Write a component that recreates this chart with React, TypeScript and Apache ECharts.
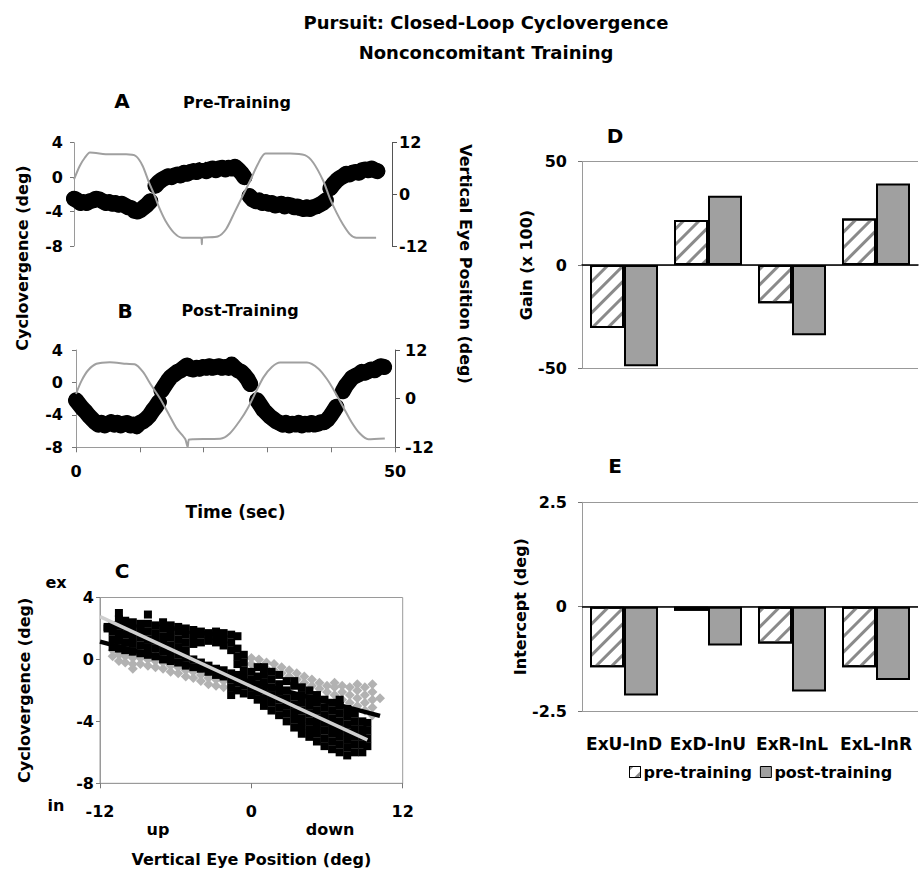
import { useEffect, useRef } from 'react';
import * as echarts from 'echarts';

const FONT = '"DejaVu Sans", "Liberation Sans", sans-serif';

// ---------- Panels A / B : time traces ----------
const timeTickLabels = [0, 50];

// vertical eye position (right axis, deg) – pre-training
const aEyePosition: [number, number][] = [
  [0, 3.5], [0.9, 6.6], [1.7, 8.5], [2.5, 9.7], [5.6, 9.3], [8.2, 9.3], [9.7, 8.9], [10.8, 6.6],
  [11.8, 2.7], [12.6, 0], [13.4, -3.1], [14.4, -6.2], [15.7, -8.9], [17, -10.1], [20, -10.1],
  [20.1, -11.6], [20.2, -10.1], [22.6, -9.8], [23.9, -8.1], [25.2, -4.3], [26.5, -0.4], [27.8, 3.5],
  [28.9, 7.0], [30.1, 9.5], [34, 9.5], [36.3, 9.1], [37.6, 7.4], [39.2, 3.1], [40.2, -0.8],
  [41.3, -4.3], [42.3, -7.0], [43.4, -9.3], [44.4, -10.1], [47.5, -10.1],
];

// cyclovergence (left axis, deg) – pre-training, four segments
const aCyclo1: [number, number][] = [
  [0, -2.5], [0.5, -2.7], [1, -3.0], [1.5, -2.9], [2, -3.0], [2.5, -2.8], [3, -2.7], [3.5, -2.5],
  [4, -2.6], [4.5, -2.8], [5, -3.0], [5.5, -2.9], [6, -3.1], [6.5, -3.0], [7, -3.2], [7.5, -3.1],
  [8, -3.3], [8.5, -3.5], [9, -3.6], [9.5, -3.9], [10, -4.0], [10.5, -3.8], [11, -3.5], [11.5, -3.2],
  [12, -2.8],
];
const aCyclo2: [number, number][] = [
  [12.8, -1.0], [13.3, -0.6], [13.8, -0.3], [14.3, -0.1], [14.8, 0.1], [15.3, 0.0], [15.8, 0.2],
  [16.3, 0.3], [16.8, 0.2], [17.3, 0.5], [17.8, 0.4], [18.3, 0.6], [18.8, 0.7], [19.3, 0.6],
  [19.8, 0.8], [20.3, 0.9], [20.8, 0.7], [21.3, 0.9], [21.8, 1.0], [22.3, 0.8], [22.8, 1.0],
  [23.3, 1.1], [23.8, 0.9], [24.3, 1.1], [24.8, 1.0], [25.3, 1.2], [25.8, 0.9], [26.3, 0.5], [26.8, 0.0],
];
const aCyclo3: [number, number][] = [
  [27.6, -2.2], [28.1, -2.6], [28.6, -2.8], [29.1, -2.7], [29.6, -3.0], [30.1, -2.9], [30.6, -3.1],
  [31.1, -3.0], [31.6, -3.3], [32.1, -3.2], [32.6, -3.1], [33.1, -3.4], [33.6, -3.2], [34.1, -3.3],
  [34.6, -3.5], [35.1, -3.4], [35.6, -3.6], [36.1, -3.7], [36.6, -3.5], [37.1, -3.7], [37.6, -3.5],
  [38.1, -3.4], [38.6, -3.2], [39.1, -3.0], [39.6, -2.7],
];
const aCyclo4: [number, number][] = [
  [40.3, -1.3], [40.8, -0.8], [41.3, -0.4], [41.8, -0.1], [42.3, 0.1], [42.8, 0.4], [43.3, 0.3],
  [43.8, 0.5], [44.3, 0.6], [44.8, 0.5], [45.3, 0.8], [45.8, 0.9], [46.3, 0.8], [46.8, 1.0],
  [47.3, 0.8], [47.7, 0.7],
];
const aOutlier: [number, number][] = [[20.2, 2.1]];

// post-training
const bEyePosition: [number, number][] = [
  [0, 1.2], [0.9, 4.5], [1.9, 7.0], [3.2, 8.6], [5.3, 9.0], [7.9, 8.6], [9.2, 8.5], [10.5, 6.6],
  [11.8, 3.3], [13.2, 0], [14.5, -3.7], [15.8, -7.4], [17.1, -9.9], [17.5, -11.9], [17.7, -10.1],
  [18.4, -10], [22.6, -9.9], [24.1, -8.6], [25.7, -5.4], [27, -2.1], [28.3, 2.0], [29.4, 5.3],
  [30.7, 7.8], [32, 8.9], [36.2, 8.9], [38, 7.4], [39.3, 4.9], [40.6, 1.6], [41.9, -2.1],
  [43.2, -5.8], [44.5, -8.6], [45.8, -10], [48.4, -9.8],
];
const bCyclo1: [number, number][] = [
  [0, -2.2], [0.5, -2.7], [1, -3.2], [1.5, -3.6], [2, -4.1], [2.5, -4.5], [3, -4.9], [3.5, -5.2],
  [4, -5.0], [4.5, -5.3], [5, -5.1], [5.5, -4.9], [6, -5.2], [6.5, -5.0], [7, -5.3], [7.5, -5.1],
  [8, -5.0], [8.5, -5.3], [9, -5.2], [9.5, -5.4], [10, -5.0], [10.5, -4.8], [11, -4.5], [11.5, -4.1],
  [12, -3.5], [12.5, -3.0], [13, -2.4],
];
const bCyclo2: [number, number][] = [
  [13.4, -1.0], [13.9, -0.4], [14.4, 0.2], [14.9, 0.7], [15.4, 1.0], [15.9, 1.3], [16.4, 1.5],
  [16.9, 1.8], [17.4, 2.1], [17.9, 1.7], [18.4, 1.6], [18.9, 1.8], [19.4, 1.7], [19.9, 1.9],
  [20.4, 1.8], [20.9, 2.0], [21.4, 1.8], [21.9, 1.9], [22.4, 2.0], [22.9, 1.8], [23.4, 1.9],
  [23.9, 1.8], [24.4, 2.2], [24.9, 1.8], [25.4, 1.5], [25.9, 1.3], [26.4, 0.9], [26.9, 0.4], [27.3, -0.2],
];
const bCyclo3: [number, number][] = [
  [28.4, -2.2], [28.9, -2.8], [29.4, -3.4], [29.9, -3.8], [30.4, -4.2], [30.9, -4.5], [31.4, -4.8],
  [31.9, -5.0], [32.4, -5.2], [32.9, -5.0], [33.4, -5.3], [33.9, -5.1], [34.4, -5.2], [34.9, -5.0],
  [35.4, -5.3], [35.9, -5.1], [36.4, -5.2], [36.9, -5.0], [37.4, -5.2], [37.9, -5.1], [38.4, -4.9],
  [38.9, -4.9], [39.4, -4.6], [39.9, -4.1], [40.4, -3.5], [40.8, -3.0],
];
const bCyclo4: [number, number][] = [
  [41.8, -1.1], [42.3, -0.4], [42.8, 0.1], [43.3, 0.6], [43.8, 0.8], [44.3, 1.0], [44.8, 1.3],
  [45.3, 1.2], [45.8, 1.4], [46.3, 1.6], [46.8, 1.5], [47.3, 1.8], [47.8, 2.0], [48.3, 1.9],
];

// ---------- Panel C : cyclovergence vs vertical eye position ----------
const postColumnsX = [
  -11.4, -11.0, -10.5, -10.0, -9.4, -8.8, -8.2, -7.6, -7.0, -6.4, -5.8, -5.2, -4.6, -4.0, -3.4,
  -2.8, -2.2, -1.6, -1.1, -0.6, 0.0, 0.5, 1.0, 1.6, 2.2, 2.8, 3.4, 4.0, 4.6, 5.2, 5.8, 6.4, 7.0,
  7.6, 8.2, 8.8, 9.2,
];
const postColumnsY: number[][] = [
  [2.0, 2.1],
  [0.8, 1.3, 1.8, 2.2],
  [0.7, 1.2, 1.7, 2.2, 2.6, 3.0],
  [0.6, 1.1, 1.6, 2.1, 2.5],
  [0.5, 1.0, 1.5, 2.0, 2.4],
  [0.4, 0.9, 1.4, 1.9, 2.3],
  [0.3, 0.8, 1.3, 1.8, 2.3, 2.9],
  [0.2, 0.7, 1.2, 1.7, 2.2],
  [0.0, 0.5, 1.0, 1.5, 2.0, 2.4],
  [-0.1, 0.4, 0.9, 1.4, 1.9, 2.2],
  [-0.2, 0.3, 0.8, 1.3, 1.8, 2.1],
  [-0.4, 0.1, 0.6, 1.1, 1.6, 2.0],
  [-0.5, 0.0, 1.0, 1.5, 1.9],
  [-0.6, -0.2, 1.1, 1.6, 1.8],
  [-0.8, -0.4, 1.2, 1.6, 1.7],
  [-1.0, -0.6, 1.1, 1.5, 1.8],
  [-1.1, -0.7, 0.9, 1.3, 1.7],
  [-2.3, -1.8, -1.3, -0.9, 0.6, 1.1, 1.6],
  [-2.0, -1.5, -1.0, -0.3, 0.2, 0.7, 1.5],
  [-2.2, -1.7, -1.2, -0.7, -0.2, 0.3],
  [-2.3, -1.8, -1.3, -0.8],
  [-2.6, -2.1, -1.6, -1.1, -0.5],
  [-3.0, -2.5, -2.0, -1.5, -1.0, -0.5],
  [-3.3, -2.8, -2.3, -1.8, -1.3, -0.8],
  [-3.6, -3.1, -2.6, -2.1, -1.6, -1.0],
  [-4.0, -3.5, -3.0, -2.5, -2.0, -1.4],
  [-4.4, -3.9, -3.4, -2.9, -2.4, -1.7, -1.4],
  [-4.8, -4.3, -3.8, -3.3, -2.8, -2.3, -1.8],
  [-5.0, -4.5, -4.0, -3.5, -3.0, -2.5, -2.0],
  [-5.3, -4.8, -4.3, -3.8, -3.3, -2.8, -2.3],
  [-5.6, -5.1, -4.6, -4.1, -3.6, -3.1, -2.6],
  [-5.8, -5.3, -4.8, -4.3, -3.8, -3.3, -2.8],
  [-6.0, -5.5, -5.0, -4.5, -4.0, -3.5, -3.0, -2.6],
  [-6.2, -5.7, -5.2, -4.7, -4.2, -3.7, -3.2],
  [-6.0, -5.5, -5.0, -4.5, -4.0, -3.5],
  [-6.0, -5.5, -5.0, -4.5, -4.0],
  [-5.6, -5.1, -4.6, -4.1],
];
const preColumnsX = [
  -11.0, -10.5, -10.0, -9.4, -8.8, -8.2, -7.6, -7.0, -6.4, -5.8, -5.2, -4.6, -4.0, -3.4, -2.8,
  -2.2, 0.0, 0.6, 1.2, 1.8, 2.4, 3.0, 3.6, 4.2, 4.8, 5.4, 6.0, 6.6, 7.2, 7.8, 8.4, 9.0, 9.6, 10.2,
];
const preColumnsY: number[][] = [
  [0.2, 0.6],
  [-0.1, 0.3, 0.7],
  [-0.2, 0.2, 0.6],
  [-0.6, -0.3, 0.1, 0.5],
  [-0.3, 0.1, 0.4],
  [-0.4, 0.0, 0.3],
  [-0.5, -0.1, 0.2],
  [-0.6, -0.2, 0.1],
  [-0.8, -0.4],
  [-0.9, -0.5],
  [-1.1, -0.7],
  [-1.2, -0.8],
  [-1.4, -1.0],
  [-1.6, -1.2],
  [-1.7, -1.3],
  [-1.8, -1.4],
  [-0.3, 0.1],
  [-0.4, 0.0],
  [-0.6, -0.2],
  [-0.7, -0.3],
  [-0.9, -0.5],
  [-1.1, -0.7],
  [-1.3, -0.9],
  [-1.5, -1.1],
  [-1.7, -1.3],
  [-1.9, -1.5],
  [-2.1, -1.7],
  [-2.3, -1.8, -1.5],
  [-2.6, -2.1, -1.7],
  [-2.8, -2.3, -1.8],
  [-3.0, -2.5, -2.0, -1.6],
  [-3.3, -2.8, -2.3, -1.8],
  [-3.6, -3.1, -2.6, -2.1, -1.6],
  [-2.5],
];
const preFitEnds: [number, number][] = [[-12, 1.15], [10.2, -3.65]];
const postFitEnds: [number, number][] = [[-12, 2.76], [9.2, -5.2]];

// ---------- Panels D / E : bars ----------
const categories = ['ExU-InD', 'ExD-InU', 'ExR-InL', 'ExL-InR'];
const gainPre = [-30.5, 21.8, -18.5, 22.5];
const gainPost = [-49, 33.5, -34, 39.5];
const interceptPre = [-1.45, -0.1, -0.88, -1.45];
const interceptPost = [-2.13, -0.93, -2.03, -1.76];

const flatten = (xs: number[], ys: number[][]) => {
  const out: [number, number][] = [];
  xs.forEach((x, i) => ys[i].forEach((y) => out.push([x, y])));
  return out;
};

const txt = (size: number) => ({
  fontFamily: FONT,
  fontWeight: 'bold' as const,
  fontSize: size,
  color: '#000',
});

const blackTrace = (data: [number, number][], xi: number, yi: number) => ({
  type: 'line',
  xAxisIndex: xi,
  yAxisIndex: yi,
  data,
  symbol: 'circle',
  symbolSize: 15,
  itemStyle: { color: '#000' },
  lineStyle: { color: '#000', width: 16, cap: 'round', join: 'round' },
  silent: true,
  z: 3,
});

const eyeTrace = (data: [number, number][], xi: number, yi: number) => ({
  type: 'line',
  xAxisIndex: xi,
  yAxisIndex: yi,
  data,
  smooth: 0.25,
  symbol: 'none',
  lineStyle: { color: '#a0a0a0', width: 2 },
  silent: true,
  z: 4,
});

const hatch = {
  symbol: 'rect',
  symbolSize: 1,
  dashArrayX: [1, 0],
  dashArrayY: [3, 8],
  rotation: -Math.PI / 4,
  color: '#8a8a8a',
};

const preItem = { color: '#fff', borderColor: '#000', borderWidth: 2, decal: hatch };
const postItem = { color: '#a0a0a0', borderColor: '#000', borderWidth: 2 };

function txtG(size: number) {
  return {
    font: `bold ${size}px ${FONT}`,
    fill: '#000',
    align: 'center',
    verticalAlign: 'middle',
  };
}

export default function App() {
  const ref = useRef<HTMLDivElement>(null);
  useEffect(() => {
    if (!ref.current) return;
    const chart = echarts.init(ref.current, null, { renderer: 'svg' });

    const leftValueAxis = (grid: number, min: number, max: number, interval: number, margin: number) => ({
      type: 'value',
      gridIndex: grid,
      min,
      max,
      interval,
      axisLine: { show: true, onZero: false, lineStyle: { color: '#9a9a9a', width: 1 } },
      axisTick: { show: true, length: 4, lineStyle: { color: '#777' } },
      axisLabel: { ...txt(16), margin },
      splitLine: { show: false },
    });

    chart.setOption({
      animation: false,
      backgroundColor: '#fff',
      title: {
        text: 'Pursuit: Closed-Loop Cyclovergence\nNonconcomitant Training',
        left: 486,
        top: 7,
        padding: 0,
        textAlign: 'center',
        textStyle: { ...txt(18), lineHeight: 30 },
      },
      legend: {
        data: ['pre-training', 'post-training'],
        left: 629,
        top: 764,
        icon: 'rect',
        itemWidth: 11,
        itemHeight: 11,
        itemGap: 8,
        padding: 0,
        itemStyle: { borderWidth: 1, borderColor: '#000' },
        textStyle: { ...txt(16), padding: [0, 0, 0, -2] },
      },
      grid: [
        { left: 74, top: 142.7, width: 318, height: 103.3 },
        { left: 76, top: 350, width: 319, height: 97.3 },
        { left: 100, top: 597.5, width: 302.7, height: 185.8, show: true, borderColor: '#9a9a9a', borderWidth: 1 },
        { left: 582, top: 161.7, width: 336, height: 206.6 },
        { left: 582, top: 502.3, width: 336, height: 208.7 },
      ],
      xAxis: [
        { type: 'value', gridIndex: 0, min: 0, max: 50, show: false },
        {
          type: 'value',
          gridIndex: 1,
          min: 0,
          max: 50,
          interval: 10,
          axisLine: { show: true, onZero: false, lineStyle: { color: '#9a9a9a' } },
          axisTick: { show: true, length: 5, lineStyle: { color: '#777' } },
          axisLabel: {
            ...txt(16),
            margin: 16,
            formatter: (v: number) => (timeTickLabels.includes(v) ? String(v) : ''),
          },
          splitLine: { show: false },
          name: 'Time (sec)',
          nameLocation: 'middle',
          nameGap: 56,
          nameTextStyle: txt(17),
        },
        {
          type: 'value',
          gridIndex: 2,
          min: -12,
          max: 12,
          interval: 12,
          axisLine: { show: true, onZero: false, lineStyle: { color: '#9a9a9a' } },
          axisTick: { show: true, length: 5, lineStyle: { color: '#777' } },
          axisLabel: { ...txt(16), margin: 20 },
          splitLine: { show: false },
          name: 'Vertical Eye Position (deg)',
          nameLocation: 'middle',
          nameGap: 68,
          nameTextStyle: txt(16),
        },
        {
          type: 'category',
          gridIndex: 3,
          data: categories,
          axisLine: { show: true, onZero: true, lineStyle: { color: '#000', width: 1.5 } },
          axisTick: { show: false },
          axisLabel: { show: false },
        },
        {
          type: 'category',
          gridIndex: 4,
          data: categories,
          axisLine: { show: false, onZero: false },
          axisTick: { show: false },
          axisLabel: { ...txt(17), margin: 24, interval: 0 },
        },
      ],
      yAxis: [
        leftValueAxis(0, -8, 4, 4, 11),
        {
          type: 'value',
          gridIndex: 0,
          position: 'right',
          min: -12,
          max: 12,
          interval: 12,
          axisLine: { show: true, onZero: false, lineStyle: { color: '#555' } },
          axisTick: { show: true, length: 5, lineStyle: { color: '#555' } },
          axisLabel: { ...txt(16), margin: 7 },
          splitLine: { show: false },
        },
        leftValueAxis(1, -8, 4, 4, 13),
        {
          type: 'value',
          gridIndex: 1,
          position: 'right',
          min: -12,
          max: 12,
          interval: 12,
          axisLine: { show: true, onZero: false, lineStyle: { color: '#555' } },
          axisTick: { show: true, length: 5, lineStyle: { color: '#555' } },
          axisLabel: { ...txt(16), margin: 10 },
          splitLine: { show: false },
        },
        {
          ...leftValueAxis(2, -8, 4, 4, 6),
          name: 'Cyclovergence (deg)',
          nameLocation: 'middle',
          nameRotate: 90,
          nameGap: 68,
          nameTextStyle: txt(16),
        },
        {
          ...leftValueAxis(3, -50, 50, 50, 15),
          splitLine: { show: true, lineStyle: { color: '#999', width: 1 } },
          name: 'Gain (x 100)',
          nameLocation: 'middle',
          nameRotate: 90,
          nameGap: 42,
          nameTextStyle: txt(16),
        },
        {
          ...leftValueAxis(4, -2.5, 2.5, 2.5, 15),
          splitLine: { show: true, lineStyle: { color: '#999', width: 1 } },
          name: 'Intercept (deg)',
          nameLocation: 'middle',
          nameRotate: 90,
          nameGap: 43,
          nameTextStyle: txt(16),
        },
      ],
      series: [
        // Panel A
        blackTrace(aCyclo1, 0, 0),
        blackTrace(aCyclo2, 0, 0),
        blackTrace(aCyclo3, 0, 0),
        blackTrace(aCyclo4, 0, 0),
        {
          type: 'scatter',
          xAxisIndex: 0,
          yAxisIndex: 0,
          data: aOutlier,
          symbol: 'emptyCircle',
          symbolSize: 6,
          itemStyle: { color: '#fff', borderColor: '#000', borderWidth: 1.5, opacity: 1 },
          silent: true,
          z: 3,
        },
        eyeTrace(aEyePosition, 0, 1),
        // Panel B
        blackTrace(bCyclo1, 1, 2),
        blackTrace(bCyclo2, 1, 2),
        blackTrace(bCyclo3, 1, 2),
        blackTrace(bCyclo4, 1, 2),
        eyeTrace(bEyePosition, 1, 3),
        // Panel C
        {
          type: 'scatter',
          name: 'pre (C)',
          xAxisIndex: 2,
          yAxisIndex: 4,
          data: flatten(preColumnsX, preColumnsY),
          symbol: 'diamond',
          symbolSize: 10,
          itemStyle: { color: '#b2b2b2', opacity: 1 },
          silent: true,
          z: 2,
        },
        {
          type: 'scatter',
          name: 'post (C)',
          xAxisIndex: 2,
          yAxisIndex: 4,
          data: flatten(postColumnsX, postColumnsY),
          symbol: 'rect',
          symbolSize: 8,
          itemStyle: { color: '#000', opacity: 1 },
          silent: true,
          z: 3,
        },
        {
          type: 'line',
          xAxisIndex: 2,
          yAxisIndex: 4,
          data: preFitEnds,
          symbol: 'none',
          lineStyle: { color: '#000', width: 4.5 },
          silent: true,
          z: 4,
        },
        {
          type: 'line',
          xAxisIndex: 2,
          yAxisIndex: 4,
          data: postFitEnds,
          symbol: 'none',
          lineStyle: { color: '#cfcfcf', width: 3.5 },
          silent: true,
          z: 5,
        },
        // Panel D
        {
          type: 'bar',
          name: 'pre-training',
          xAxisIndex: 3,
          yAxisIndex: 5,
          data: gainPre,
          barWidth: 34,
          barGap: '0%',
          itemStyle: preItem,
          silent: true,
        },
        {
          type: 'bar',
          name: 'post-training',
          xAxisIndex: 3,
          yAxisIndex: 5,
          data: gainPost,
          barWidth: 34,
          barGap: '0%',
          itemStyle: postItem,
          silent: true,
        },
        // Panel E
        {
          type: 'bar',
          name: 'pre-training',
          xAxisIndex: 4,
          yAxisIndex: 6,
          data: interceptPre,
          barWidth: 34,
          barGap: '0%',
          itemStyle: preItem,
          silent: true,
          markLine: {
            silent: true,
            symbol: ['none', 'none'],
            label: { show: false },
            lineStyle: { color: '#000', width: 1.5, type: 'solid' },
            data: [{ yAxis: 0 }],
          },
        },
        {
          type: 'bar',
          name: 'post-training',
          xAxisIndex: 4,
          yAxisIndex: 6,
          data: interceptPost,
          barWidth: 34,
          barGap: '0%',
          itemStyle: postItem,
          silent: true,
        },
      ],
      graphic: [
        { type: 'text', x: 122, y: 101, style: { text: 'A', ...txtG(20) } },
        { type: 'text', x: 237, y: 102, style: { text: 'Pre-Training', ...txtG(16) } },
        { type: 'text', x: 125, y: 311, style: { text: 'B', ...txtG(20) } },
        { type: 'text', x: 240, y: 310, style: { text: 'Post-Training', ...txtG(16) } },
        { type: 'text', x: 22, y: 258, rotation: Math.PI / 2, style: { text: 'Cyclovergence (deg)', ...txtG(16) } },
        { type: 'text', x: 465, y: 264, rotation: -Math.PI / 2, style: { text: 'Vertical Eye Position (deg)', ...txtG(16) } },
        { type: 'text', x: 122, y: 571, style: { text: 'C', ...txtG(20) } },
        { type: 'text', x: 56, y: 582, style: { text: 'ex', ...txtG(16) } },
        { type: 'text', x: 56, y: 805, style: { text: 'in', ...txtG(16) } },
        { type: 'text', x: 158, y: 829, style: { text: 'up', ...txtG(16) } },
        { type: 'text', x: 330, y: 829, style: { text: 'down', ...txtG(16) } },
        { type: 'text', x: 615, y: 136, style: { text: 'D', ...txtG(20) } },
        { type: 'text', x: 615, y: 466, style: { text: 'E', ...txtG(20) } },
      ],
    });
    return () => chart.dispose();
  }, []);

  return (
    <div
      ref={ref}
      style={{ position: 'absolute', left: 0, top: 0, width: 919, height: 872, background: '#fff' }}
    />
  );
}
